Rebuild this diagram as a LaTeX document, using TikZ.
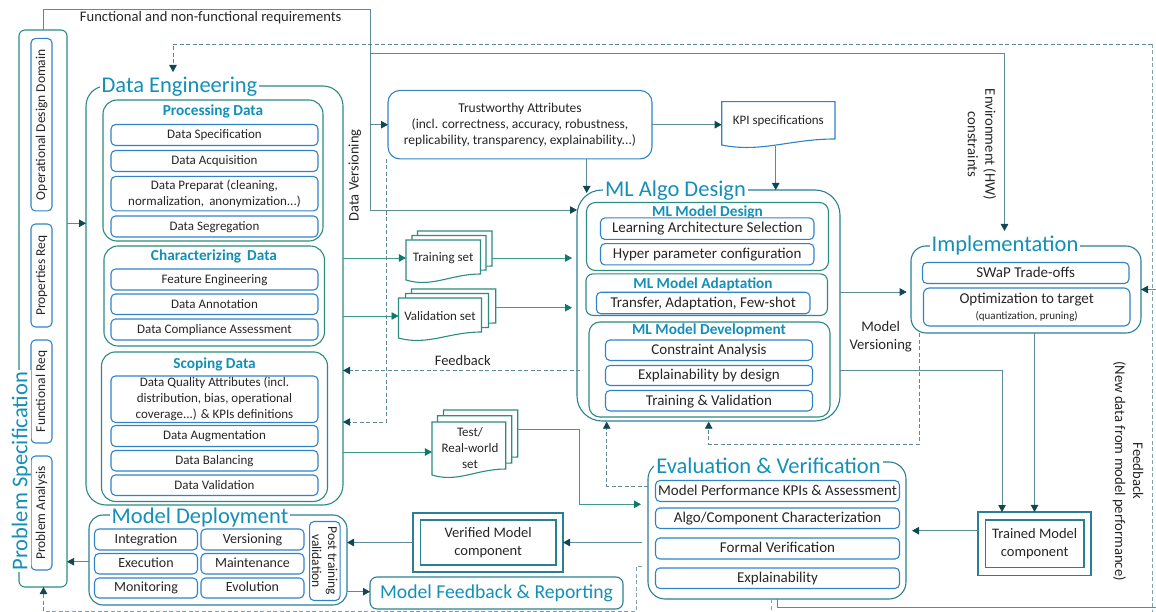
\documentclass[tikz,border=0pt]{standalone}
\usepackage{fontspec}
\setmainfont{Carlito}
\usetikzlibrary{arrows.meta}
\definecolor{tealb}{HTML}{2B8C80}
\definecolor{oceanb}{HTML}{2A7F93}
\definecolor{itemb}{HTML}{2F84C8}
\definecolor{titlec}{HTML}{1490B8}
\definecolor{linec}{HTML}{5E8A96}
\definecolor{tipc}{HTML}{0F4855}
\definecolor{teall}{HTML}{3E9A8C}
\definecolor{tiptl}{HTML}{0E7A6C}
\definecolor{inkc}{HTML}{262626}
\tikzset{
  sz/.style 2 args={minimum width=#1pt, minimum height=#2pt},
  every node/.style={inner sep=0pt, outer sep=0pt, text=inkc, align=center, font=\fontsize{13}{16}\selectfont},
  itembox/.style={draw=itemb, line width=1.1pt, rounded corners=4.5pt, fill=white},
  lineitem/.style={itembox, text height=9.8pt, text depth=2pt},
  depitem/.style={lineitem, font=\fontsize{14}{16}\selectfont},
  mlitem/.style={itembox, text height=11pt, text depth=2.4pt, font=\fontsize{15}{17}\selectfont},
  groupbox/.style={draw=tealb, line width=1.1pt, rounded corners=14pt, fill=white},
  outerbox/.style={draw=tealb, line width=1.1pt, rounded corners=20pt, fill=white},
  bluebox/.style={draw=oceanb, line width=1.1pt, rounded corners=20pt, fill=white},
  bigtitle/.style={text=titlec, fill=white, inner xsep=2pt, font=\fontsize{22.5}{26}\selectfont},
  subtitle/.style={text=titlec, font=\fontsize{15.3}{17}\selectfont\bfseries},
  conn/.style={draw=linec, line width=.9pt, -{Triangle[color=tipc, length=7pt, width=7.5pt]}},
  plainconn/.style={draw=linec, line width=.9pt},
  tealconn/.style={draw=teall, line width=.9pt, -{Triangle[color=tiptl, length=7pt, width=7.5pt]}},
  dashconn/.style={draw=linec, line width=.9pt, dash pattern=on 4pt off 2.5pt, -{Triangle[color=tipc, length=7pt, width=7.5pt]}},
  dashplain/.style={draw=linec!80, line width=.9pt, dash pattern=on 4pt off 2.5pt},
}
% one sheet of a stacked document
\newcommand{\docsheet}[5]{\draw[#1, line width=1.1pt, fill=white] (#2,#3) -- (#4,#3) -- (#4,#5) .. controls ({#4-(#4-#2)*.4},#5) and ({#2+(#4-#2)*.35},#5+14) .. (#2,#5+6) -- cycle;}
\begin{document}
\begin{tikzpicture}[x=1pt, y=-1pt]
\useasboundingbox (0,0) rectangle (1156,612);
% problem specification
\node[draw=tealb, line width=1.1pt, rounded corners=6pt, sz={48}{557}] (pspec) at (43,308.5){};
\node[itembox, sz={172.5}{21}, rotate=90, font=\fontsize{13.5}{16}\selectfont] (psodd) at (41.5,124.7){Operational Design Domain};
\node[itembox, sz={103}{21}, rotate=90, font=\fontsize{13.5}{16}\selectfont] (psprop) at (41.5,275.5){Properties Req};
\node[itembox, sz={103}{21}, rotate=90, font=\fontsize{13.5}{16}\selectfont] (psfunc) at (41.5,391.5){Functional Req};
\node[itembox, sz={114}{21}, rotate=90, font=\fontsize{13.5}{16}\selectfont] (psana) at (41.5,513){Problem Analysis};
\node[bigtitle, rotate=90] (pstitle) at (21.5,471){Problem Specification};
% data engineering
\node[outerbox, sz={257}{419}] (dataeng) at (214.5,295.5){};
\node[bigtitle] (detitle) at (179.5,87){Data Engineering};
\node[groupbox, sz={220}{141}] (proc) at (213,170.5){};
\node[subtitle] (proct) at (213,111.5){Processing Data};
\node[lineitem, sz={207}{21}] (proc1) at (214.5,135){Data Specification};
\node[lineitem, sz={207}{21}] (proc2) at (214.5,161){Data Acquisition};
\node[itembox, sz={207}{34.5}] (proc3) at (214.5,193.7){Data Preparat (cleaning,\\normalization,\, anonymization...)};
\node[lineitem, sz={207}{21}] (proc4) at (214.5,226.5){Data Segregation};
\node[groupbox, sz={220.5}{100}] (char) at (214.2,296){};
\node[subtitle] (chart) at (214,256.5){Characterizing\, Data};
\node[lineitem, sz={207}{21}] (char1) at (214.5,279.5){Feature Engineering};
\node[lineitem, sz={207}{20.5}] (char2) at (214.5,304.2){Data Annotation};
\node[lineitem, sz={207}{21}] (char3) at (214.5,329.5){Data Compliance Assessment};
\node[groupbox, sz={226}{149.5}] (scop) at (214.5,426.7){};
\node[subtitle] (scopt) at (214.5,364.5){Scoping Data};
\node[itembox, sz={207}{46.5}] (scop1) at (214.5,399.2){Data Quality Attributes (incl.\\distribution, bias, operational\\coverage...) \& KPIs definitions};
\node[lineitem, sz={207}{21}] (scop2) at (214.5,436){Data Augmentation};
\node[lineitem, sz={207}{20.5}] (scop3) at (214.5,460.7){Data Balancing};
\node[lineitem, sz={207}{20.5}] (scop4) at (214.5,485.2){Data Validation};
% model deployment
\node[bluebox, rounded corners=14pt, sz={258}{90}] (deploy) at (218,560){};
\node[bigtitle] (deployt) at (200,517){Model Deployment};
\node[depitem, sz={103}{21}] (dep1) at (146,539.5){Integration};
\node[depitem, sz={103}{20.5}] (dep2) at (146,563.7){Execution};
\node[depitem, sz={103}{20}] (dep3) at (146,588){Monitoring};
\node[depitem, sz={103}{21}] (dep4) at (252.5,539.5){Versioning};
\node[depitem, sz={103}{20.5}] (dep5) at (252.5,563.7){Maintenance};
\node[depitem, sz={103}{20}] (dep6) at (252.5,588){Evolution};
\node[itembox, sz={79}{30.5}, rotate=-90, font=\fontsize{13.5}{16}\selectfont] (dep7) at (324.8,561){Post training\\validation};
\node[draw=oceanb, line width=1.1pt, rounded corners=7pt, sz={253}{32}, text=titlec, font=\fontsize{19.7}{22}\selectfont] (feedrep) at (496.5,593){Model Feedback \& Reporting};
\node[draw=oceanb, line width=1.1pt, sz={150}{59}] (verif) at (488,542.5){};
\node[draw=oceanb, line width=1.1pt, sz={135.5}{45}, font=\fontsize{14.5}{17.5}\selectfont] (verifin) at (488.2,542.5){Verified Model\\component};
% trustworthy and kpi
\node[itembox, rounded corners=12pt, sz={264}{68.5}, font=\fontsize{13.5}{16}\selectfont] (trust) at (520,124.7){Trustworthy Attributes\\(incl. correctness, accuracy, robustness,\\replicability, transparency, explainability...)};
\docsheet{itemb}{721.7}{101.7}{835}{139}
\node[sz={113.3}{44}] (kpi) at (778.3,121){KPI specifications};
% document stacks
\docsheet{tealb}{417.5}{231}{492}{266}
\docsheet{tealb}{412}{235.5}{486}{270}
\docsheet{tealb}{406}{240}{480.5}{274}
\node[sz={74.5}{36}] (trainset) at (443.2,258){Training set};
\docsheet{tealb}{411.5}{289}{495.7}{323}
\docsheet{tealb}{405.5}{293.5}{488.5}{327.5}
\docsheet{tealb}{398.5}{298}{481.5}{332}
\node[sz={83}{36}] (valset) at (440,316){Validation set};
\docsheet{tealb}{443.5}{410}{517.7}{457}
\docsheet{tealb}{437.5}{415.7}{511.7}{463}
\docsheet{tealb}{432}{422}{505.7}{469}
\node[sz={73.7}{60}] (testset) at (468.8,452){};
\node (testsett) at (470,447.7){Test/\\Real-world\\set};
% ml algo design
\node[bluebox, rounded corners=25pt, sz={263}{231}] (mlalgo) at (708.5,305.5){};
\node[bigtitle] (mlalgot) at (675.5,191){ML Algo Design};
\node[groupbox, rounded corners=9pt, sz={242}{68}] (mlds) at (707.5,236.5){};
\node[subtitle] (mldst) at (707.5,212){ML Model Design};
\node[mlitem, sz={213.5}{21.5}] (mlds1) at (707.2,228.7){Learning Architecture Selection};
\node[mlitem, sz={213.5}{21.3}] (mlds2) at (707.2,254.3){Hyper parameter configuration};
\node[groupbox, rounded corners=7pt, sz={241.5}{41.5}] (mlad) at (706.7,294.7){};
\node[subtitle] (mladt) at (703,284.5){ML Model Adaptation};
\node[mlitem, sz={213.5}{21.5}] (mlad1) at (703.2,303){Transfer, Adaptation, Few-shot};
\node[groupbox, rounded corners=11pt, sz={241}{95}] (mlde) at (709.5,369.5){};
\node[subtitle] (mldet) at (709,330.5){ML Model Development};
\node[mlitem, sz={207}{20.5}] (mlde1) at (709,350.2){Constraint Analysis};
\node[mlitem, sz={207}{20}] (mlde2) at (709,375.5){Explainability by design};
\node[mlitem, sz={207}{20.5}] (mlde3) at (709,400.7){Training \& Validation};
% implementation
\node[bluebox, rounded corners=15pt, sz={230}{87}] (impl) at (1026,289.5){};
\node[bigtitle] (implt) at (1005,246){Implementation};
\node[mlitem, sz={206.5}{21}] (impl1) at (1025.7,273){SWaP Trade-offs};
\node[itembox, rounded corners=6pt, sz={206.5}{38}] (impl2) at (1026.7,307){};
\node (impl2a) at (1026.7,300){\fontsize{15}{17}\selectfont Optimization to target};
\node (impl2b) at (1026.7,316.5){\fontsize{11}{12}\selectfont (quantization, pruning)};
% evaluation
\node[bluebox, rounded corners=17pt, sz={258}{137}] (eval) at (777,530.5){};
\node[bigtitle] (evalt) at (768.5,466){Evaluation \& Verification};
\node[mlitem, sz={244}{21}] (eval1) at (777.5,491){Model Performance KPIs \& Assessment};
\node[mlitem, sz={244}{20.5}] (eval2) at (777.5,518.2){Algo/Component Characterization};
\node[mlitem, sz={244}{21}] (eval3) at (777.5,548.5){Formal Verification};
\node[mlitem, sz={244}{20.5}] (eval4) at (777.5,578.2){Explainability};
% trained model
\node[draw=oceanb, line width=1.1pt, sz={113}{63.5}] (trained) at (1034.5,543.7){};
\node[draw=oceanb, line width=1.1pt, sz={98.5}{47.5}, font=\fontsize{14.5}{17.5}\selectfont] (trainedin) at (1034.7,543.7){Trained Model\\component};
% free ends
\coordinate (topl) at (370.5,9);
\coordinate (topjoin) at (370.5,53.5);
\coordinate (rdash) at (1152.3,44);
\coordinate (rdashb) at (1152.3,612);
\coordinate (redge) at (1156,289.5);
\coordinate (redgeb) at (1156,607);
\coordinate (botdash) at (636,611.3);
\coordinate (evdash) at (771.7,612);
\coordinate (evtick) at (642,566.7);
% labels
\node[font=\fontsize{14.6}{16}\selectfont] (lreq) at (210.7,18){Functional and non-functional requirements};
\node[rotate=90, font=\fontsize{14.5}{16}\selectfont] (lver) at (355,175.5){Data Versioning};
\node[font=\fontsize{14.5}{16}\selectfont] (lfeed) at (462.7,361){Feedback};
\node[rotate=-90, font=\fontsize{14.7}{17.5}\selectfont] (lenv) at (982,144.5){Environment (HW)\\constraints};
\node[font=\fontsize{14.7}{18}\selectfont] (lmodv) at (880.7,337){Model\\Versioning};
\node[rotate=-90, font=\fontsize{14.7}{18}\selectfont] (lnew) at (1128,471){Feedback\\(New data from model performance)};
% connectors
\draw[plainconn](pspec.north) -- (pspec.north |- topl) -- (topl) -- (topjoin);
\draw[conn](topjoin) |- (mlalgo.west |- 0,210);
\draw[conn](topjoin |- trust.west) -- (trust.west);
\draw[conn](topjoin) -| (1004.5,231);
\draw[dashconn](rdash) -- (173,44) -- (173,72);
\draw[dashplain](rdash) -- (rdashb);
\draw[conn](redge) -- (impl.east |- redge);
\draw[plainconn](777,599) |- (redgeb);
\draw[dashplain](eval.south -| evdash) -- (evdash);
\draw[dashplain](evtick) -- (636,566.7) -- (botdash) -- (43.5,611.3);
\draw[dashconn](43.5,611.3) -- (pspec.south -| 43.5,0);
\draw[conn](pspec.east |- dataeng.west) ++(0,-72.2) -- (dataeng.west |- 0,223.3);
\draw[conn](deploy.west |- 0,561.7) -- (pspec.east |- 0,561.7);
\draw[conn](verif.west) -- (deploy.east |- verif.west);
\draw[conn](eval.west |- verif.east) ++(-6,0) -- (verif.east);
\draw[conn](deploy.east |- 0,591.7) -- (feedrep.west |- 0,591.7);
\draw[conn](trained.west |- 0,530.7) -- (912,530.7);
\draw[conn](trust.east) -- (kpi.west |- trust.east);
\draw[conn](trust.south -| 586.7,0) -- (586.7,193);
\draw[conn](775.7,146) -- (mlalgo.north -| 775.7,0);
\draw[tealconn](dataeng.east |- trainset.west) -- (trainset.west);
\draw[tealconn](dataeng.east |- valset.west) -- (valset.west);
\draw[tealconn](dataeng.east |- testset.west) -- (testset.west);
\draw[tealconn]([xshift=11.5pt]trainset.east) -- (572,258);
\draw[tealconn](495.7,307.7) -- (572,307.7);
\draw[tealconn](517.7,429) -- (579.5,429) -- (579.5,504.3) -- (641,504.3);
\draw[dashconn](580,370.5) -- (dataeng.east |- 0,370.5);
\draw[dashconn](trust.south -| 386.7,0) -- (386.7,422) -- (dataeng.east |- 0,422);
\draw[dashconn](eval.west |- 0,486) -- (606.7,486) -- (606.7,421.7);
\draw[dashconn](impl.south -| 919,0) -- (919,444) -- (708.7,444) -- (708.7,421.7);
\draw[conn](mlalgo.east |- 0,292) -- (906.7,292);
\draw[conn](mlalgo.east |- 0,370.5) -- (1002,370.5) -- (1002,512);
\draw[conn](impl.south -| trained.north) -- (trained.north);
\end{tikzpicture}
\end{document}
